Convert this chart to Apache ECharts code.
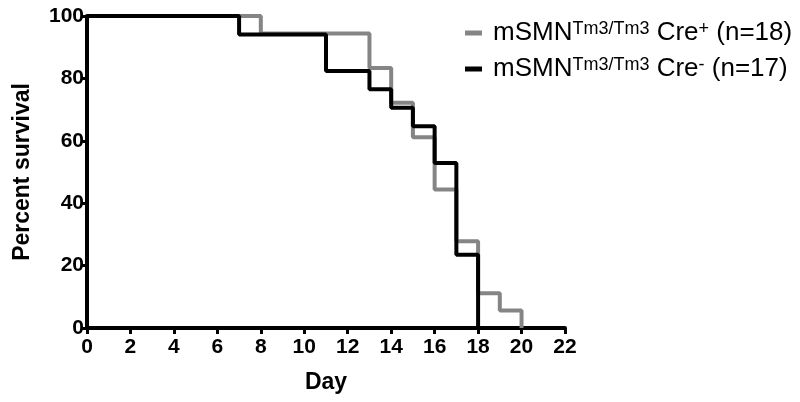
<!DOCTYPE html>
<html>
<head>
<meta charset="utf-8">
<script src="https://cdn.jsdelivr.net/npm/echarts@6/dist/echarts.min.js"></script>
<style>
  html, body { margin: 0; padding: 0; background: #fff; }
  #chart { width: 800px; height: 402px; }
</style>
</head>
<body>
<div id="chart"></div>
<script>
// Kaplan-Meier steps: [day, percent survival]
var creMinusDays = [0, 7, 11, 13, 14, 15, 16, 17, 18];
var creMinusSurvival = [100, 94.1, 82.4, 76.5, 70.6, 64.7, 52.9, 23.5, 0];

var crePlusDays = [0, 8, 13, 14, 15, 16, 17, 18, 19, 20];
var crePlusSurvival = [100, 94.4, 83.3, 72.2, 61.1, 44.4, 27.8, 11.1, 5.6, 0];

var xTicks = { min: 0, max: 22, interval: 2 };
var yTicks = { min: 0, max: 100, interval: 20 };

function pairs(days, values) {
  var out = [];
  days.forEach(function (d, i) {
    out.push([d, values[i]]);
  });
  return out;
}

var font = 'Liberation Sans, Arial, sans-serif';

var chart = echarts.init(document.getElementById('chart'));

var option = {
  animation: false,
  grid: {
    left: 87,
    right: 235,
    top: 16,
    bottom: 74
  },
  legend: {
    orient: 'vertical',
    left: 465,
    top: 20,
    padding: 0,
    itemGap: 8,
    itemWidth: 17,
    itemHeight: 5,
    icon: 'rect',
    data: ['plus', 'minus'],
    formatter: function (name) {
      if (name === 'plus') {
        return '{m|mSMN}{s|Tm3/Tm3}{a| Cre}{s|+}{a| (n=18)}';
      }
      return '{m|mSMN}{s|Tm3/Tm3}{a| Cre}{s|-}{a| (n=17)}';
    },
    textStyle: {
      fontFamily: font,
      rich: {
        m: { fontSize: 26, color: '#000', fontFamily: font, lineHeight: 26, verticalAlign: 'bottom', padding: [0, 0, 0, 6] },
        a: { fontSize: 26, color: '#000', fontFamily: font, lineHeight: 26, verticalAlign: 'bottom' },
        s: { fontSize: 18, color: '#000', fontFamily: font, lineHeight: 26, verticalAlign: 'top', padding: [0, 0, 10, 0] }
      }
    }
  },
  xAxis: {
    type: 'value',
    min: xTicks.min,
    max: xTicks.max,
    interval: xTicks.interval,
    name: 'Day',
    nameLocation: 'middle',
    nameGap: 43,
    nameTextStyle: { fontFamily: font, fontWeight: 'bold', fontSize: 23, color: '#000' },
    splitLine: { show: false },
    axisLine: { onZero: false, lineStyle: { color: '#000', width: 4 } },
    axisTick: { length: 6, lineStyle: { color: '#000', width: 3 } },
    axisLabel: { margin: 9, fontFamily: font, fontWeight: 'bold', fontSize: 21, color: '#000' }
  },
  yAxis: {
    type: 'value',
    min: yTicks.min,
    max: yTicks.max,
    interval: yTicks.interval,
    name: 'Percent survival',
    nameLocation: 'middle',
    nameGap: 53,
    nameTextStyle: { fontFamily: font, fontWeight: 'bold', fontSize: 23, color: '#000' },
    splitLine: { show: false },
    axisLine: { onZero: false, lineStyle: { color: '#000', width: 4 } },
    axisTick: { length: 5, lineStyle: { color: '#000', width: 3 } },
    axisLabel: { margin: 3, fontFamily: font, fontWeight: 'bold', fontSize: 21, color: '#000' }
  },
  series: [
    {
      name: 'plus',
      type: 'line',
      step: 'end',
      showSymbol: false,
      symbol: 'none',
      color: '#858585',
      lineStyle: { color: '#858585', width: 4 },
      data: pairs(crePlusDays, crePlusSurvival)
    },
    {
      name: 'minus',
      type: 'line',
      step: 'end',
      showSymbol: false,
      symbol: 'none',
      color: '#000',
      lineStyle: { color: '#000', width: 4 },
      data: pairs(creMinusDays, creMinusSurvival)
    }
  ]
};

chart.setOption(option);
</script>
</body>
</html>
